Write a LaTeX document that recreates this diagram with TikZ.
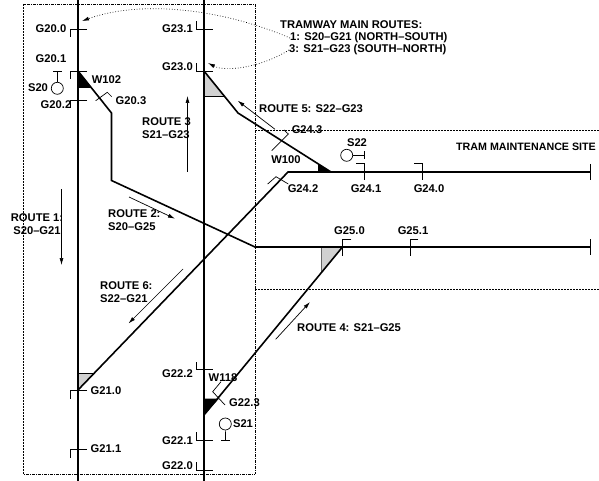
\documentclass[tikz,border=0pt]{standalone}
\usepackage{fontspec}
\setmainfont{Liberation Sans}
\usepackage{tikz}
\usetikzlibrary{arrows.meta}

\begin{document}
\begin{tikzpicture}[x=1pt, y=-1pt,
    >={Latex[length=7pt,width=4pt]},
    track/.style={line width=1.6pt, line join=miter},
    signalline/.style={line width=0.7pt},
    routearrow/.style={line width=0.7pt, ->},
    sitebox/.style={line width=0.7pt, dash pattern=on 2pt off 0.8pt on 0.8pt off 0.8pt on 0.8pt off 0.8pt},
    note/.style={line width=0.7pt, dotted, ->},
    lbl/.style={inner sep=0pt, font=\fontsize{11.2}{12.8}\selectfont\bfseries},
    lblw/.style={lbl, anchor=west, align=left}
  ]
  \useasboundingbox (0,0) rectangle (599,481);

  % Site boundaries
  \draw[sitebox] (23.5,4) rectangle (255,474);
  \draw[sitebox] (255,130) -- (599,130);
  \draw[sitebox] (255,289.5) -- (599,289.5);

  % Junction points
  \coordinate (W102a) at (78,71);
  \coordinate (W102b) at (111.5,113);
  \coordinate (W102c) at (111.5,180.5);
  \coordinate (R2end) at (255,247);
  \coordinate (T25end) at (590.5,247);
  \coordinate (G23a) at (204,71);
  \coordinate (G23b) at (238,113);
  \coordinate (W100) at (331,172);
  \coordinate (T24start) at (288,172);
  \coordinate (T24end) at (590.5,172);
  \coordinate (G21a) at (78,390);
  \coordinate (W118) at (204,415);
  \coordinate (G25a) at (342.5,247);

  % Shaded points of the switches
  \fill[black!18] (204,71) -- (225,96) -- (204,96) -- cycle;
  \fill[black!18] (78,373) -- (95,373) -- (78,390) -- cycle;
  \fill[black!18] (321.7,247) -- (342.5,247) -- (321.7,272) -- cycle;
  \draw[signalline] (204,96) -- (225,96);
  \draw[signalline] (78,373) -- (95,373);
  \draw[line width=1pt, black!60] (321.7,247) -- (321.7,272);
  \fill (78,71) -- (91,88) -- (78,88) -- cycle;
  \fill (204,415) -- (219,398.5) -- (204,398.5) -- cycle;
  \fill (318,164) -- (331,172) -- (318,172) -- cycle;

  % Main lines
  \draw[track] (78,0) -- (78,481);
  \draw[track] (204,0) -- (204,481);

  % Other tracks
  \draw[track] (W102a) -- (W102b) -- (W102c) -- (R2end) -- (T25end);
  \draw[track] (G23a) -- (G23b) -- (W100);
  \draw[track] (G21a) -- (T24start) -- (T24end);
  \draw[track] (W118) -- (G25a);
  \draw[line width=1pt] (590.5,164) -- (590.5,180);
  \draw[line width=1pt] (590.5,239) -- (590.5,255);

  % Gates on the main lines
  \draw[signalline] (87,29) -- (70,29) -- (70,37);
  \draw[signalline] (87,71) -- (70,71) -- (70,79.5);
  \draw[signalline] (87,100.5) -- (70,100.5) -- (70,108);
  \draw[signalline] (212.5,29) -- (196,29) -- (196,21);
  \draw[signalline] (212.5,71) -- (196,71) -- (196,63);
  \draw[signalline] (87,390) -- (70,390) -- (70,398.5);
  \draw[signalline] (87,449.5) -- (70,449.5) -- (70,457.5);
  \draw[signalline] (212.5,369.5) -- (196,369.5) -- (196,361.5);
  \draw[signalline] (212.5,440.5) -- (196,440.5) -- (196,432);
  \draw[signalline] (212.5,470) -- (196,470) -- (196,462);

  % Gates on the other tracks
  \draw[signalline] (95.7,100.7) -- (107.3,92.3) -- (111.7,96.7);
  \draw[signalline] (271.7,150.7) -- (288.3,134) -- (284,130);
  \draw[signalline] (267.7,184) -- (276,176.7) -- (288.3,184);
  \draw[signalline] (356,163.5) -- (364,163.5) -- (364,180);
  \draw[signalline] (414.3,163.5) -- (422.3,163.5) -- (422.3,180);
  \draw[signalline] (351.3,239) -- (342.7,239) -- (342.7,255.7);
  \draw[signalline] (418.3,239) -- (410,239) -- (410,255.7);
  \draw[signalline] (221,381.7) -- (212.7,391.7) -- (225,405);

  % Signals
  \node[draw, circle, signalline, minimum size=12pt, inner sep=0pt] (S20) at (57.3,88.3) {};
  \draw[signalline] (S20) -- (57.3,71);
  \draw[signalline] (53.3,71) -- (61.7,71);
  \node[draw, circle, signalline, minimum size=12pt, inner sep=0pt] (S22) at (346.7,155.3) {};
  \draw[signalline] (S22) -- (364,155.3);
  \draw[signalline] (364,151.5) -- (364,159.3);
  \node[draw, circle, signalline, minimum size=12pt, inner sep=0pt] (S21) at (225.3,424) {};
  \draw[signalline] (S21) -- (225.5,440.7);
  \draw[signalline] (221.3,440.7) -- (230,440.7);

  % Route arrows
  \draw[routearrow] (61.5,189) -- (61.5,265);
  \draw[routearrow] (187.5,172) -- (187.5,96);
  \draw[routearrow] (129,197) -- (175,218.7);
  \draw[routearrow] (275,129.3) -- (237.7,100.7);
  \draw[routearrow] (183,269) -- (128.5,323.5);
  \draw[routearrow] (275.7,339.3) -- (310,302);

  % Gate and signal labels
  \node[lbl] (lG200) at (51,29) {G20.0};
  \node[lbl] (lG201) at (51,59) {G20.1};
  \node[lbl] (lS20) at (38,88) {S20};
  \node[lbl] (lG202) at (56,105) {G20.2};
  \node[lbl] (lW102) at (106.5,80) {W102};
  \node[lbl] (lG203) at (131,101) {G20.3};
  \node[lbl] (lG231) at (177.5,29) {G23.1};
  \node[lbl] (lG230) at (177.5,67) {G23.0};
  \node[lbl] (lG243) at (307,130) {G24.3};
  \node[lbl] (lW100) at (286,160) {W100};
  \node[lbl] (lS22) at (357,143) {S22};
  \node[lbl] (lG242) at (303,189) {G24.2};
  \node[lbl] (lG241) at (366,189) {G24.1};
  \node[lbl] (lG240) at (429,189) {G24.0};
  \node[lbl] (lG250) at (349.5,231) {G25.0};
  \node[lbl] (lG251) at (413,231) {G25.1};
  \node[lbl] (lG210) at (106,391) {G21.0};
  \node[lbl] (lG211) at (106,449) {G21.1};
  \node[lbl] (lG222) at (177.5,374) {G22.2};
  \node[lbl] (lW118) at (223,378) {W118};
  \node[lbl] (lG223) at (244.5,403) {G22.3};
  \node[lbl] (lS21) at (243,424) {S21};
  \node[lbl] (lG221) at (177.5,441) {G22.1};
  \node[lbl] (lG220) at (177.5,466) {G22.0};

  % Route labels
  \node[lbl, align=center] (route1) at (37,224.5) {ROUTE 1:\\S20–G21};
  \node[lblw] (route2) at (108,220.5) {ROUTE 2:\\S20–G25};
  \node[lblw] (route3) at (142,128) {ROUTE 3\\S21–G23};
  \node[lblw] (route4) at (297,328) {ROUTE 4: S21–G25};
  \node[lblw] (route5) at (259,109) {ROUTE 5: S22–G23};
  \node[lblw] (route6) at (100,292) {ROUTE 6:\\S22–G21};
  \node[lblw, font=\fontsize{10.7}{12.8}\selectfont\bfseries] (site) at (456,147) {TRAM MAINTENANCE SITE};

  % Main routes note
  \node[lblw] (title) at (280,25) {TRAMWAY MAIN ROUTES:};
  \node[lblw] (main1) at (290,38) {1: S20–G21 (NORTH–SOUTH)};
  \node[lblw] (main3) at (289,50) {3: S21–G23 (SOUTH–NORTH)};
  \draw[note] (main1.west) .. controls (220,8) and (140,0) .. (82,21);
  \draw[note] (main3.west) .. controls (260,68) and (225,72) .. (208,63);
\end{tikzpicture}
\end{document}
